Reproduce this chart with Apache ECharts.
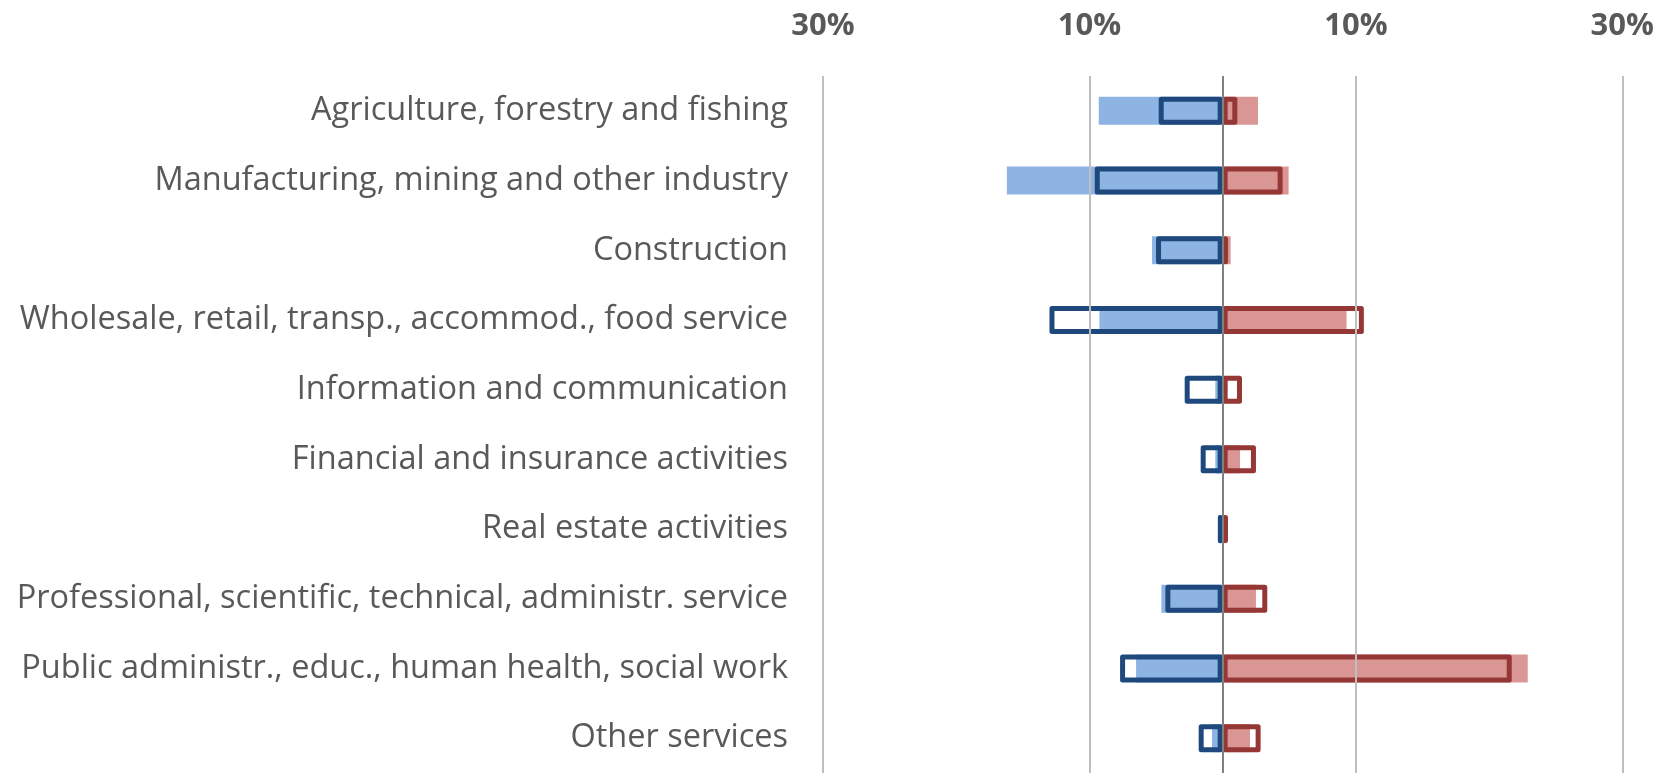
<!DOCTYPE html>
<html>
<head>
<meta charset="utf-8">
<script src="https://cdn.jsdelivr.net/npm/echarts@6/dist/echarts.min.js"></script>
<style>
  html, body { margin: 0; padding: 0; background: #fff; }
  #main { width: 1657px; height: 773px; }
</style>
</head>
<body>
<div id="main"></div>
<script>
// categories (top to bottom)
var sectors = [
    'Agriculture, forestry and fishing',
    'Manufacturing, mining and other industry',
    'Construction',
    'Wholesale, retail, transp., accommod., food service',
    'Information and communication',
    'Financial and insurance activities',
    'Real estate activities',
    'Professional, scientific, technical, administr. service',
    'Public administr., educ., human health, social work',
    'Other services'
];

// left side (shown as negative), in %
var blueFill = [9.3, 16.2, 5.3, 9.25, 0.55, 0.55, 0.3, 4.6, 6.5, 0.8];
var blueOutline = [4.8, 9.6, 5.0, 13.0, 2.85, 1.65, 0.35, 4.3, 7.7, 1.8];
// right side, in %
var redFill = [2.65, 4.95, 0.6, 9.3, 0.2, 1.3, 0.3, 2.5, 22.9, 2.05];
var redOutline = [1.1, 4.5, 0.4, 10.6, 1.45, 2.5, 0.4, 3.35, 21.7, 2.85];

// tick labels / gridlines
var gridTicks = [-30, -10, 10, 30];

function neg(arr) {
    return arr.map(function (v) { return -v; });
}

var chart = echarts.init(document.getElementById('main'));

var option = {
    animation: false,
    grid: {
        left: 823,
        width: 800,
        top: 76,
        bottom: -3
    },
    xAxis: {
        type: 'value',
        position: 'top',
        min: -30,
        max: 30,
        interval: 10,
        axisLine: {show: false},
        axisTick: {show: false},
        splitLine: {show: false},
        axisLabel: {
            margin: 34,
            color: '#595959',
            fontFamily: 'Open Sans',
            fontWeight: 'bold',
            fontSize: 31,
            formatter: function (v) {
                return gridTicks.indexOf(v) >= 0 ? Math.abs(v) + '%' : '';
            }
        }
    },
    yAxis: {
        type: 'category',
        inverse: true,
        data: sectors,
        axisLine: {show: false},
        axisTick: {show: false},
        axisLabel: {
            margin: 35,
            color: '#595959',
            fontFamily: 'Open Sans',
            fontSize: 32.5
        }
    },
    series: [
        {
            name: 'blueFill',
            type: 'bar',
            barWidth: 28,
            barGap: '-100%',
            data: neg(blueFill),
            itemStyle: {color: '#8eb4e3'},
            z: 2,
            markLine: {
                silent: true,
                symbol: 'none',
                label: {show: false},
                lineStyle: {color: '#bfbfbf', width: 2, type: 'solid'},
                data: gridTicks.map(function (t) { return {xAxis: t}; })
            }
        },
        {
            name: 'redFill',
            type: 'bar',
            barWidth: 28,
            barGap: '-100%',
            data: redFill,
            itemStyle: {color: '#d99694'},
            z: 2
        },
        {
            name: 'blueOutline',
            type: 'bar',
            barWidth: 28,
            barGap: '-100%',
            data: neg(blueOutline),
            itemStyle: {
                color: 'rgba(0,0,0,0)',
                borderColor: '#1f497d',
                borderWidth: 5,
                borderJoin: 'round'
            },
            z: 3
        },
        {
            name: 'redOutline',
            type: 'bar',
            barWidth: 28,
            barGap: '-100%',
            data: redOutline,
            itemStyle: {
                color: 'rgba(0,0,0,0)',
                borderColor: '#953735',
                borderWidth: 5,
                borderJoin: 'round'
            },
            z: 3,
            //中心轴线
            markLine: {
                silent: true,
                symbol: 'none',
                label: {show: false},
                lineStyle: {color: '#808080', width: 2, type: 'solid'},
                data: [{xAxis: 0}]
            }
        }
    ]
};

chart.setOption(option);
</script>
</body>
</html>
